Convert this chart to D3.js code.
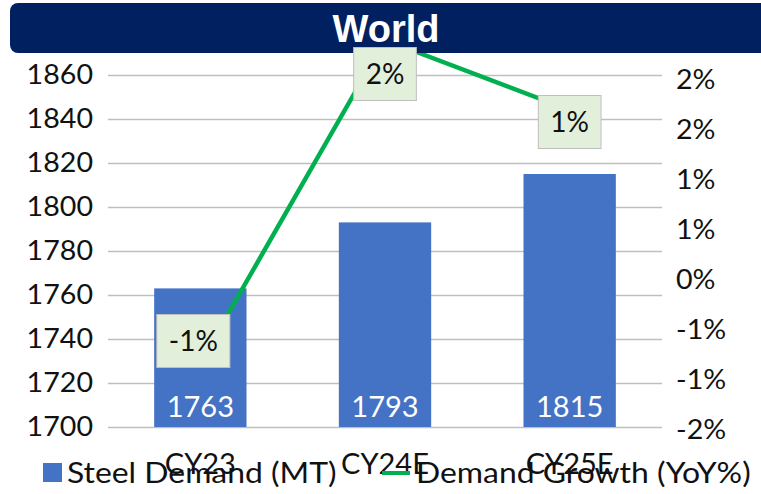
<!DOCTYPE html>
<html><head><meta charset="utf-8">
<script src="https://cdn.jsdelivr.net/npm/d3@7"></script>
<style>body{margin:0;background:#fff} svg{display:block}</style>
</head><body><svg id="c" width="761" height="494"></svg>
<script>
// ---- data ----
const chartTitle = "World";
const categories = ["CY23", "CY24E", "CY25E"];
const steelDemand = [1763, 1793, 1815];          // MT
const demandGrowth = [-0.6, 1.7, 1.2];           // YoY %
const leftTicks = [1700, 1720, 1740, 1760, 1780, 1800, 1820, 1840, 1860];
const rightTicks = [-1.5, -1.0, -0.5, 0, 0.5, 1.0, 1.5, 2.0];
const seriesNames = ["Steel Demand (MT)", "Demand Growth (YoY%)"];

// ---- layout / style ----
const FONT = "Lato, 'Open Sans', sans-serif";
const BLUE = "#4472C4", GREEN = "#00B050", NAVY = "#002060", GRID = "#BFBFBF";
const plot = {left: 108, right: 662, top: 75, bottom: 427};
const labelOffsets = [[-7, -21], [0, 34], [0, 12]];
const AXIS_STRETCH = 1.06, LEGEND_STRETCH = 1.1;

const pct = v => { const r = Math.sign(v) * Math.round(Math.abs(v)); return (r === 0 ? 0 : r) + "%"; };

const svg = d3.select("#c");

const x = d3.scaleBand().domain(categories).range([plot.left, plot.right])
  .paddingInner(0.5).paddingOuter(0.25);
const yLeft = d3.scaleLinear().domain([1700, 1860]).range([plot.bottom, plot.top]);
const yRightAxis = d3.scaleLinear().domain([-1.5, 2.0]).range([430, 80]);
const yGrowth = d3.scaleLinear().domain([-1.5, 2.0]).range([488, -2]);

// left axis + gridlines
const gL = svg.append("g").attr("transform", `translate(${plot.left},0)`)
  .call(d3.axisLeft(yLeft).tickValues(leftTicks).tickSizeInner(-(plot.right - plot.left)).tickSizeOuter(0).tickPadding(15).tickFormat(d3.format("d")));
gL.select(".domain").remove();
gL.selectAll(".tick line").attr("stroke", GRID).attr("stroke-width", 1.6);
gL.selectAll(".tick text").attr("font-family", FONT).attr("font-size", 27).attr("fill", "#111")
  .attr("x", -15 / AXIS_STRETCH).attr("transform", `scale(${AXIS_STRETCH},1)`);

// right axis (labels only)
const gR = svg.append("g").attr("transform", `translate(${plot.right},0)`)
  .call(d3.axisRight(yRightAxis).tickValues(rightTicks).tickSize(0).tickPadding(14).tickFormat(pct));
gR.select(".domain").remove();
gR.selectAll(".tick text").attr("font-family", FONT).attr("font-size", 27).attr("fill", "#111")
  .attr("x", 14 / AXIS_STRETCH).attr("transform", `scale(${AXIS_STRETCH},1)`);

// bars
svg.append("g").selectAll("rect").data(categories).join("rect")
  .attr("x", d => x(d)).attr("width", x.bandwidth())
  .attr("y", (d, i) => yLeft(steelDemand[i]))
  .attr("height", (d, i) => yLeft(1700) - yLeft(steelDemand[i]))
  .attr("fill", BLUE);

// bar value labels
svg.append("g").selectAll("text").data(categories).join("text")
  .attr("x", d => x(d) + x.bandwidth() / 2).attr("y", yLeft(1700) - 10)
  .attr("text-anchor", "middle").attr("font-family", FONT).attr("font-size", 29)
  .attr("fill", "#fff").text((d, i) => steelDemand[i]);

// category axis
const gB = svg.append("g").attr("transform", `translate(0,${plot.bottom})`)
  .call(d3.axisBottom(x).tickSize(0).tickPadding(26));
gB.select(".domain").remove();
gB.selectAll(".tick text").attr("font-family", FONT).attr("font-size", 29).attr("fill", "#111");

// growth line
const pts = categories.map((c, i) => [x(c) + x.bandwidth() / 2, yGrowth(demandGrowth[i])]);
svg.append("path").attr("d", d3.line()(pts)).attr("fill", "none")
  .attr("stroke", GREEN).attr("stroke-width", 4.5).attr("stroke-linejoin", "round");

// title bar
svg.append("rect").attr("x", 10).attr("y", 3).attr("width", 770).attr("height", 50)
  .attr("rx", 8).attr("fill", NAVY);
svg.append("text").attr("x", 386).attr("y", 42).attr("text-anchor", "middle")
  .attr("font-family", "'Liberation Sans', Arial, sans-serif").attr("font-weight", "bold")
  .attr("font-size", 38).attr("fill", "#fff").text(chartTitle);

// growth data labels
pts.forEach((p, i) => {
  const g = svg.append("g").attr("transform", `translate(${p[0] + labelOffsets[i][0]},${p[1] + labelOffsets[i][1]})`);
  const r = g.append("rect");
  const t = g.append("text").attr("text-anchor", "middle").attr("dy", "0.36em")
    .attr("font-family", FONT).attr("font-size", 28).attr("fill", "#111").text(pct(demandGrowth[i]));
  const w = t.node().getComputedTextLength() + 24, h = 53;
  r.attr("x", -w / 2).attr("y", -h / 2).attr("width", w).attr("height", h)
    .attr("fill", "#E2EFDA").attr("stroke", GRID).attr("stroke-width", 1);
});

// legend
svg.append("rect").attr("x", 43).attr("y", 463).attr("width", 19).attr("height", 19).attr("fill", BLUE);
svg.append("text").attr("transform", `translate(67,483) scale(${LEGEND_STRETCH},1)`)
  .attr("font-family", FONT).attr("font-size", 29).attr("fill", "#111").text(seriesNames[0]);
svg.append("line").attr("x1", 382).attr("x2", 410).attr("y1", 473).attr("y2", 473)
  .attr("stroke", GREEN).attr("stroke-width", 4);
svg.append("text").attr("transform", `translate(416,483) scale(${LEGEND_STRETCH},1)`)
  .attr("font-family", FONT).attr("font-size", 29).attr("fill", "#111").text(seriesNames[1]);
</script></body></html>
